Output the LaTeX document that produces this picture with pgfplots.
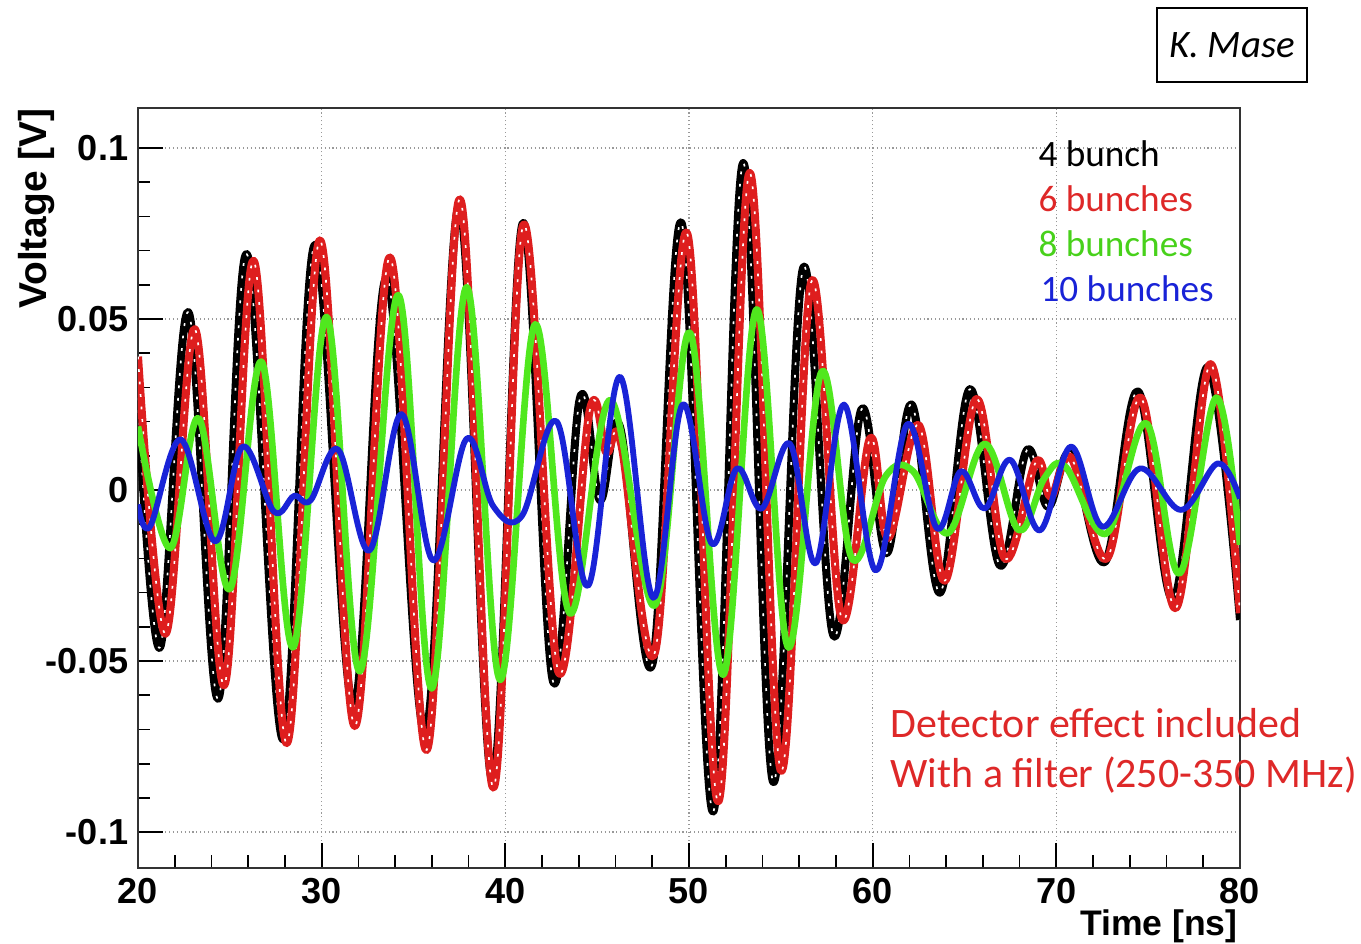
\documentclass[border=0pt]{standalone}
\usepackage{fontspec}
\setmainfont{Liberation Sans}
\newfontfamily\carl{Carlito}
\usepackage{pgfplots}
\pgfplotsset{compat=1.18}
\usepackage{pgfplotstable}
\definecolor{cred}{RGB}{222,30,30}
\definecolor{cgreen}{RGB}{80,232,30}
\definecolor{cblue}{RGB}{25,35,215}
\definecolor{tred}{RGB}{222,40,40}

\pgfplotstableread{
x y
20.0 0.027
21.2 -0.046
22.74 0.052
24.37 -0.061
25.92 0.069
27.91 -0.073
29.63 0.0717
31.72 -0.0635
33.54 0.062
35.65 -0.071
37.5 0.083
39.3 -0.085
40.95 0.078
42.6 -0.056
44.06 0.0268
45.15 -0.003
46.24 0.0185
48.0 -0.051
49.6 0.078
51.32 -0.094
52.95 0.0956
54.58 -0.0853
56.22 0.065
57.85 -0.0424
59.4 0.0237
60.76 -0.0185
62.12 0.025
63.66 -0.030
65.29 0.0295
66.92 -0.022
68.4 0.0117
69.55 -0.0049
70.8 0.0107
72.65 -0.021
74.45 0.0288
76.36 -0.032
78.26 0.036
80.0 -0.038
}\blackdata

\pgfplotstableread{
x y
20.0 0.039
21.5 -0.042
23.1 0.047
24.7 -0.057
26.3 0.067
28.1 -0.074
29.9 0.073
31.8 -0.069
33.72 0.068
35.72 -0.076
37.53 0.085
39.34 -0.087
40.98 0.0775
42.88 -0.053
44.6 0.0234
45.5 0.011
46.3 0.0137
48.14 -0.0475
49.9 0.075
51.6 -0.091
53.3 0.0927
55.0 -0.082
56.67 0.061
58.3 -0.0374
59.85 0.015
60.84 -0.014
62.5 0.019
63.93 -0.0265
65.65 0.0266
67.2 -0.020
68.9 0.0083
69.7 -0.002
70.8 0.0095
72.75 -0.020
74.6 0.027
76.5 -0.0345
78.4 0.0368
80.0 -0.036
}\reddata

\pgfplotstableread{
x y
20.0 0.0186
21.75 -0.017
23.3 0.021
25.0 -0.029
26.73 0.0375
28.45 -0.046
30.27 0.0506
32.08 -0.053
34.17 0.057
35.99 -0.058
37.89 0.0593
39.71 -0.0555
41.61 0.0484
43.5 -0.036
45.7 0.0263
48.14 -0.0337
50.05 0.046
51.86 -0.054
53.68 0.0528
55.4 -0.046
57.22 0.0346
58.87 -0.020
60.7 0.004
62.2 0.0055
64.1 -0.0126
66.1 0.0135
67.95 -0.0117
69.35 0.0035
70.5 0.0068
72.73 -0.0127
74.9 0.0195
76.7 -0.0244
78.7 0.027
80.0 -0.016
}\greendata

\pgfplotstableread{
x y
20.0 -0.0042
20.65 -0.0107
22.33 0.0148
24.2 -0.015
25.7 0.0127
27.4 -0.0063
28.5 -0.0017
29.4 -0.003
30.9 0.0118
32.6 -0.0177
34.35 0.0222
36.07 -0.0206
37.89 0.015
39.34 -0.0047
40.9 -0.0076
42.8 0.020
44.5 -0.028
46.24 0.0331
48.05 -0.0315
49.65 0.025
51.23 -0.0156
52.6 0.0063
53.96 -0.0054
55.5 0.0135
56.9 -0.0214
58.44 0.025
60.16 -0.0235
61.9 0.0193
63.5 -0.0112
64.8 0.0055
66.1 -0.0054
67.5 0.0088
69.1 -0.0118
70.8 0.0127
72.5 -0.0107
74.55 0.0063
76.8 -0.0058
78.8 0.0078
80.0 -0.0025
}\bluedata

\begin{document}
\begin{tikzpicture}
\begin{axis}[
  at={(49.68pt,27.36pt)}, anchor=south west,
  scale only axis, width=396.72pt, height=273.6pt,
  xmin=20, xmax=80, ymin=-0.1105, ymax=0.1117,
  xtick={20,30,40,50,60,70,80}, xticklabels={20,30,40,50,60,70,80},
  ytick={-0.1,-0.05,0,0.05,0.1}, yticklabels={-0.1,-0.05,0,0.05,0.1},
  minor x tick num=4, minor y tick num=4,
  tick pos=left, tick align=inside,
  major tick length=9pt, minor tick length=4.5pt,
  xmajorgrids, ymajorgrids,
  grid style={densely dotted, gray!80, line width=0.5pt},
  major tick style={black, line width=0.7pt},
  minor tick style={black, line width=0.6pt},
  axis line style={black!80, line width=0.6pt},
  ticklabel style={font=\bfseries\fontsize{13}{13}\selectfont},
  every axis plot/.append style={smooth, tension=0.6, line join=round},
]
\addplot[black, line width=2.9pt] table {\blackdata};
\addplot[white, line width=0.6pt, dash pattern=on 1pt off 3.5pt] table {\blackdata};
\addplot[cred, line width=2.9pt] table {\reddata};
\addplot[white, line width=0.6pt, dash pattern=on 1pt off 3.5pt] table {\reddata};
\addplot[cgreen, line width=2.4pt] table {\greendata};
\addplot[cblue, line width=2.1pt] table {\bluedata};
\end{axis}

% axis labels
\node[rotate=90, anchor=east, inner sep=0pt, font=\bfseries\fontsize{14}{14}\selectfont] at (13.32pt,300.96pt) {Voltage [V]};
\node[anchor=base east, inner sep=0pt, font=\bfseries\fontsize{12.8}{12.8}\selectfont] at (445.7pt,3.2pt) {Time [ns]};

% legend texts
\begin{scope}[every node/.style={anchor=base west, inner sep=0pt, font=\carl\fontsize{13.4}{13.4}\selectfont}]
\node[text=black] at (373.68pt,279.72pt) {4 bunch};
\node[text=tred] at (373.68pt,263.52pt) {6 bunches};
\node[text=cgreen!90!black] at (373.68pt,247.32pt) {8 bunches};
\node[text=cblue] at (374.4pt,231.12pt) {10 bunches};
\end{scope}

\begin{scope}[every node/.style={anchor=base west, inner sep=0pt, text=tred, font=\carl\fontsize{15.1}{15.1}\selectfont}]
\node at (320.4pt,74.16pt) {Detector effect included};
\node at (320.4pt,56.16pt) {With a filter (250-350 MHz)};
\end{scope}

% author box
\draw[black, line width=0.8pt] (416.52pt,310.32pt) rectangle (470.52pt,336.96pt);
\node[font=\carl\itshape\fontsize{14}{14}\selectfont] at (443.52pt,323.64pt) {K. Mase};

\pgfresetboundingbox
\path (0pt,0pt) rectangle (489.96pt,339.84pt);
\end{tikzpicture}
\end{document}
